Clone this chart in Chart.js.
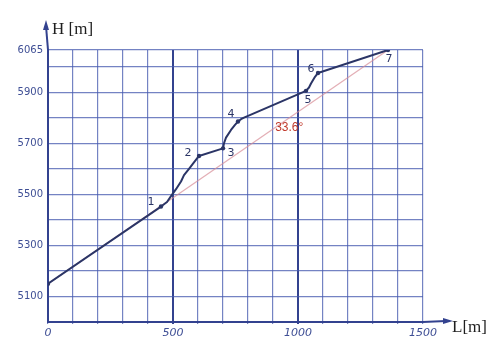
<!DOCTYPE html>
<html><head><meta charset="utf-8">
<script src="https://cdn.jsdelivr.net/npm/chart.js@4/dist/chart.umd.min.js"></script>
<style>html,body{margin:0;padding:0;background:#fff;} canvas{display:block;}</style>
</head><body>
<canvas id="c" width="501" height="359"></canvas>
<script>
// Longitudinal profile: distance L [m] and altitude H [m]
const profileL = [0, 452, 476, 492, 512, 532, 544, 564, 580, 604, 700, 704, 712, 732, 748, 760, 772, 784, 1032, 1044, 1052, 1068, 1080, 1360];
const profileH = [5150, 5452, 5470, 5493, 5520, 5550, 5575, 5600, 5620, 5650, 5680, 5700, 5722, 5752, 5772, 5785, 5794, 5800, 5905, 5918, 5934, 5960, 5975, 6065];
// marked points (index into profile) and their names
const markedIdx = [0, 1, 9, 10, 15, 18, 22, 23];
const markedNames = ['', '1', '2', '3', '4', '5', '6', '7'];
// average slope line (start to end)
const slopeL = [0, 1360];
const slopeH = [5150, 6065];
const slopeText = '33.6°';
// axes
const xMin = 0, xMax = 1500, xStep = 100;
const xTickLabels = [0, 500, 1000, 1500];
const yGrid = [5000, 5100, 5200, 5300, 5400, 5500, 5600, 5700, 5800, 5900, 6000, 6065];
const yTickLabels = [5100, 5300, 5500, 5700, 5900, 6065];

const profileData = profileL.map((l, i) => ({x: l, y: profileH[i]}));
const slopeData = slopeL.map((l, i) => ({x: l, y: slopeH[i]}));
const radii = profileL.map((_, i) => markedIdx.includes(i) ? 2.2 : 0);

const NAVY = '#2b3566';
const GRID = 'rgba(70,90,175,0.75)';
const GRID_DARK = '#33428f';
const TICKC = '#3f4f95';

// label offsets in pixels relative to each marked point
const nameOffsets = [[0,0],[-10,-4],[-11,-3],[8,5],[-7,-7],[2,9],[-7,-4],[1,9]];

const decor = {
  id: 'decor',
  afterDraw(chart) {
    const {ctx, chartArea: a, scales: {x, y}} = chart;
    ctx.save();
    // axis arrows
    ctx.strokeStyle = GRID_DARK; ctx.fillStyle = GRID_DARK; ctx.lineWidth = 2;
    ctx.beginPath(); ctx.moveTo(a.left, a.top); ctx.lineTo(a.left - 2, 26); ctx.stroke();
    ctx.beginPath(); ctx.moveTo(a.left - 2, 20); ctx.lineTo(a.left - 5, 30); ctx.lineTo(a.left + 1, 30); ctx.closePath(); ctx.fill();
    ctx.beginPath(); ctx.moveTo(a.right, a.bottom); ctx.lineTo(446, a.bottom - 1); ctx.stroke();
    ctx.beginPath(); ctx.moveTo(453, a.bottom - 1); ctx.lineTo(443, a.bottom - 4); ctx.lineTo(443, a.bottom + 2); ctx.closePath(); ctx.fill();
    // axis titles
    ctx.fillStyle = '#1e1e1e';
    ctx.font = '17px "Liberation Serif", serif';
    ctx.textBaseline = 'middle'; ctx.textAlign = 'left';
    ctx.fillText('H [m]', 52, 30);
    ctx.fillText('L[m]', 452, 328);
    // point names
    ctx.fillStyle = NAVY;
    ctx.font = '11px "DejaVu Sans", sans-serif';
    ctx.textAlign = 'center';
    markedIdx.forEach((idx, k) => {
      if (!markedNames[k]) return;
      const px = x.getPixelForValue(profileL[idx]) + nameOffsets[k][0];
      const py = y.getPixelForValue(profileH[idx]) + nameOffsets[k][1];
      ctx.fillText(markedNames[k], px, py);
    });
    // slope angle label
    ctx.fillStyle = '#c0392b';
    ctx.font = '12px "Liberation Sans", sans-serif';
    ctx.fillText(slopeText, x.getPixelForValue(965), y.getPixelForValue(5760));
    ctx.restore();
  }
};

new Chart(document.getElementById('c'), {
  type: 'scatter',
  data: {
    datasets: [
      {data: slopeData, showLine: true, borderColor: 'rgba(215,140,150,0.7)', borderWidth: 1.2, pointRadius: 0, order: 2},
      {data: profileData, showLine: true, borderColor: NAVY, borderWidth: 2, tension: 0,
       borderJoinStyle: 'round', borderCapStyle: 'round',
       pointRadius: radii, pointBackgroundColor: NAVY, pointBorderWidth: 0, order: 1}
    ]
  },
  options: {
    responsive: false,
    animation: false,
    layout: {padding: {top: 50, right: 78, left: 0, bottom: 0}},
    plugins: {legend: {display: false}, tooltip: {enabled: false}},
    scales: {
      x: {
        type: 'linear', min: xMin, max: xMax,
        afterFit(s) { s.height = 37; },
        ticks: {stepSize: xStep, autoSkip: false, maxRotation: 0, padding: 3, color: TICKC,
          font: {family: '"DejaVu Sans", sans-serif', size: 11, style: 'italic'},
          callback: v => xTickLabels.includes(v) ? String(v) : ''},
        grid: {drawTicks: true, tickLength: 2,
          color: c => (c.tick && (c.tick.value === 500 || c.tick.value === 1000)) ? GRID_DARK : GRID,
          lineWidth: c => (c.tick && (c.tick.value === 500 || c.tick.value === 1000)) ? 2 : 1.2},
        border: {color: GRID_DARK, width: 2}
      },
      y: {
        type: 'linear', min: 5000, max: 6065,
        afterFit(s) { s.width = 48; },
        afterBuildTicks(s) { s.ticks = yGrid.map(v => ({value: v})); },
        ticks: {autoSkip: false, padding: 5, color: TICKC,
          font: {family: '"DejaVu Sans", sans-serif', size: 10},
          callback: v => yTickLabels.includes(v) ? String(v) : ''},
        grid: {drawTicks: false, color: GRID, lineWidth: 1.2},
        border: {color: GRID_DARK, width: 2}
      }
    }
  },
  plugins: [decor]
});
</script>
</body></html>
